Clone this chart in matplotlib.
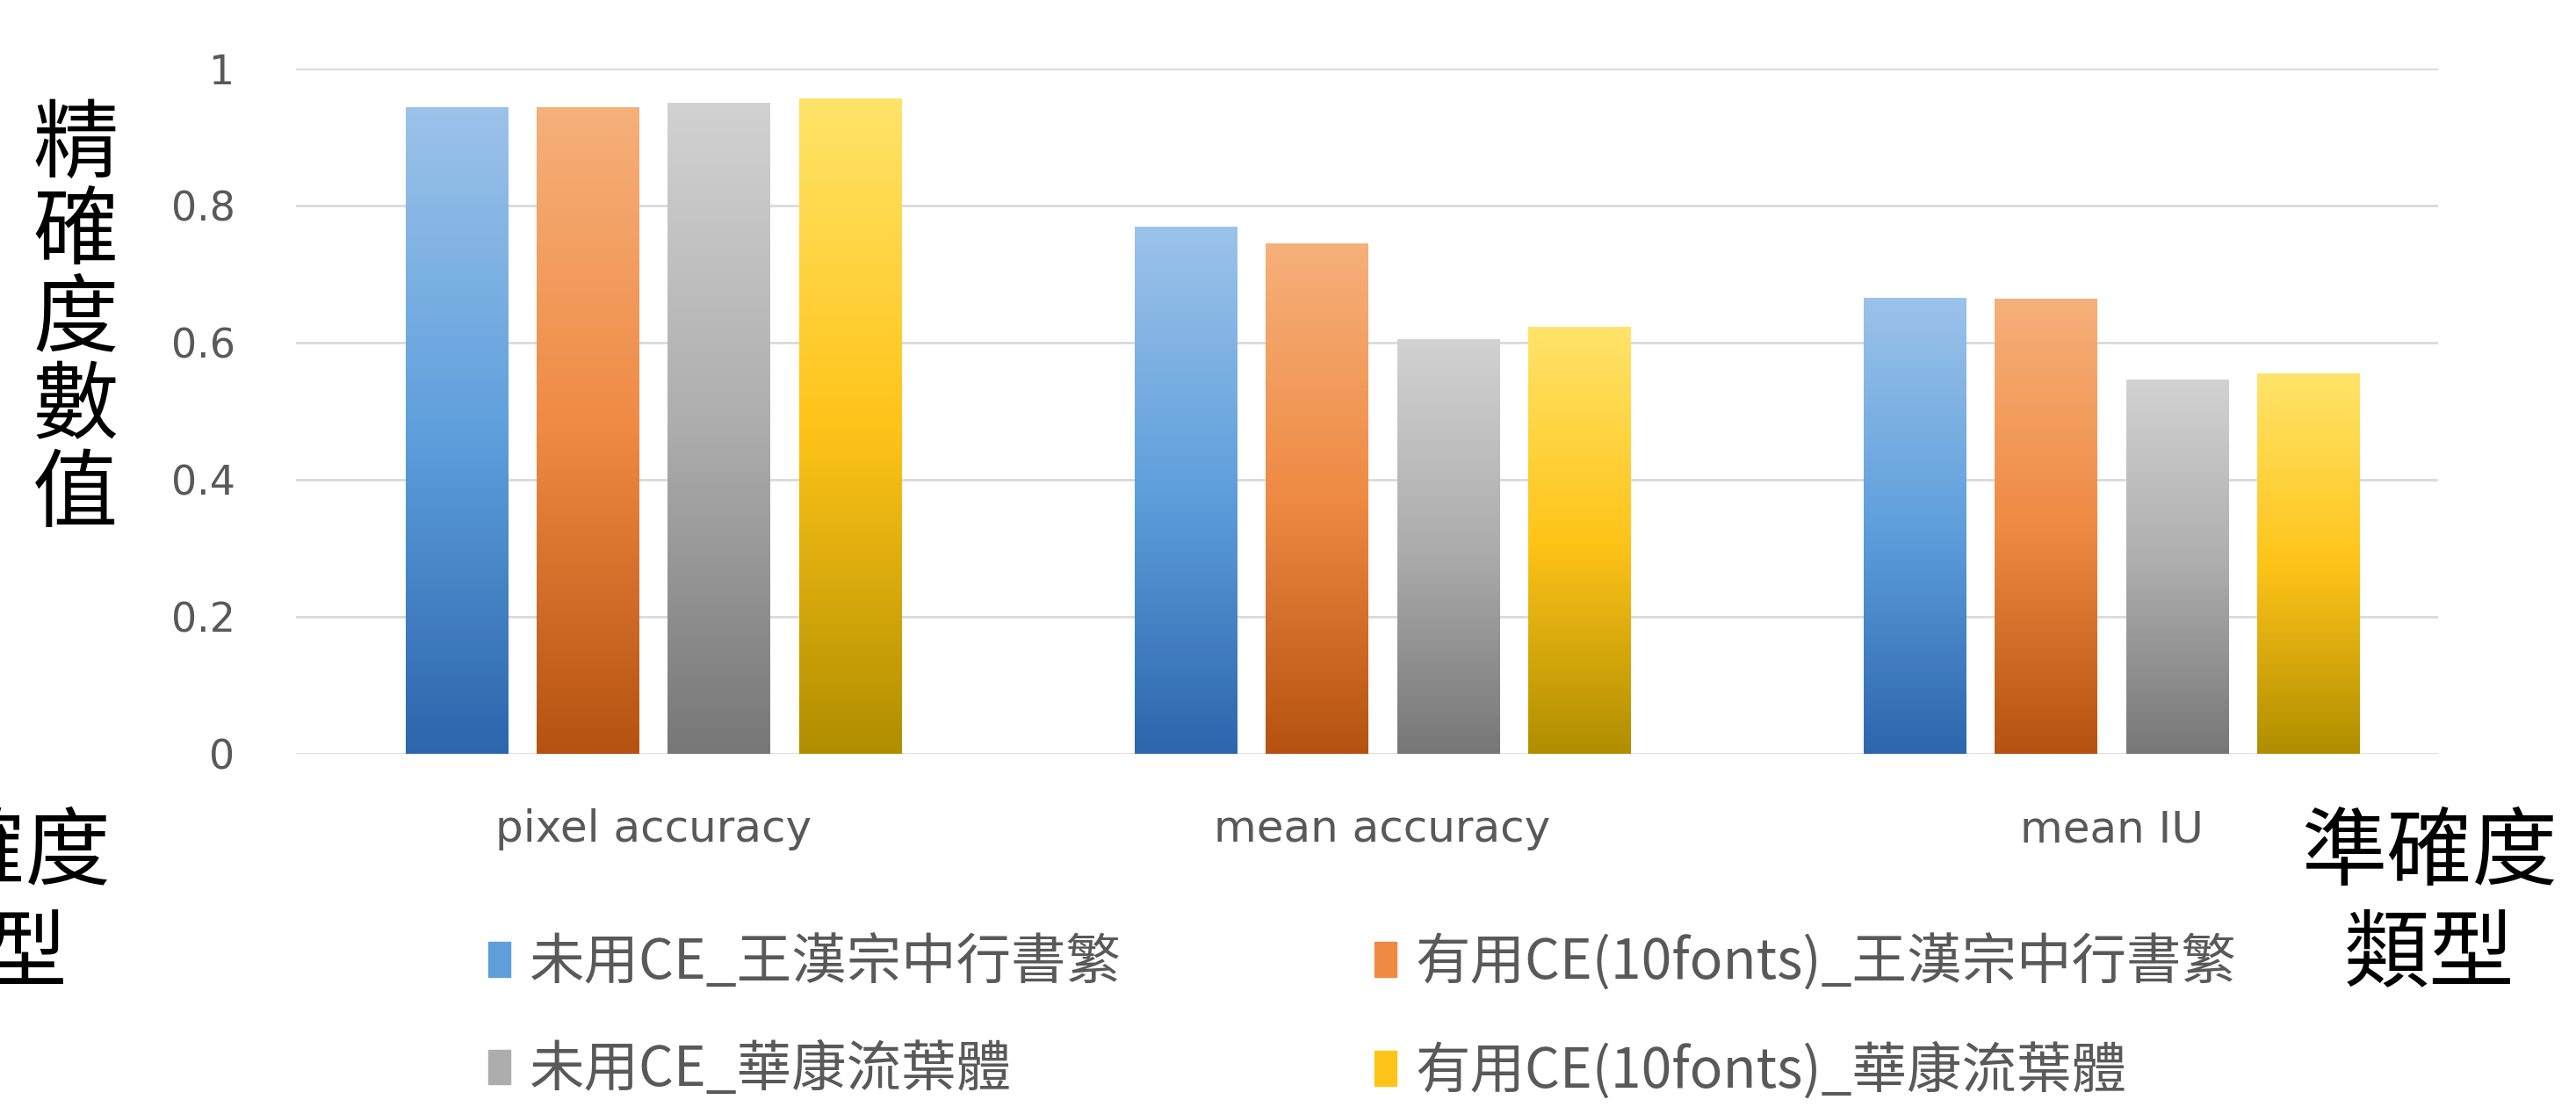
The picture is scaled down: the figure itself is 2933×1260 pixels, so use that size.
import numpy as np
import matplotlib
matplotlib.use('Agg')
import matplotlib.pyplot as plt
from matplotlib.colors import LinearSegmentedColormap
from matplotlib.patches import Patch

plt.rcParams['font.family'] = ['Noto Sans CJK TC', 'DejaVu Sans']

# data
categories = ['pixel accuracy', 'mean accuracy', 'mean IU']
series_names = ['未用CE_王漢宗中行書繁', '有用CE(10fonts)_王漢宗中行書繁',
                '未用CE_華康流葉體', '有用CE(10fonts)_華康流葉體']
no_ce_wang = [0.943, 0.768, 0.665]
ce_wang = [0.943, 0.744, 0.663]
no_ce_hk = [0.949, 0.604, 0.545]
ce_hk = [0.956, 0.622, 0.555]
yticks = [0, 0.2, 0.4, 0.6, 0.8, 1]
ytick_labels = ['0', '0.2', '0.4', '0.6', '0.8', '1']

# top / middle / bottom colours of each bar gradient
gradients = [
    ['#9cc3ea', '#5f9fdc', '#2c66ad'],
    ['#f6b07a', '#ef8a43', '#b5520f'],
    ['#d2d2d2', '#adadad', '#777777'],
    ['#ffe46a', '#ffc419', '#b08e00'],
]

W, H = 2933, 1260
fig = plt.figure(figsize=(W / 100, H / 100), dpi=100)
ax = fig.add_axes([337 / W, 1 - 858 / H, (2776 - 337) / W, (858 - 78) / H])

x = np.arange(len(categories))
width = 0.14
offsets = [-0.27, -0.09, 0.09, 0.27]
grad = np.linspace(0, 1, 256).reshape(-1, 1)

handles = []
for vals, off, cols in zip([no_ce_wang, ce_wang, no_ce_hk, ce_hk], offsets, gradients):
    cmap = LinearSegmentedColormap.from_list('g', cols)
    bars = ax.bar(x + off, vals, width, color=cols[1], zorder=2)
    for b in bars:
        ax.imshow(grad, extent=[b.get_x(), b.get_x() + b.get_width(), 0, b.get_height()],
                  aspect='auto', cmap=cmap, zorder=3, origin='upper')
    handles.append(Patch(color=cols[1]))

ax.set_xlim(-0.49, 2.448)
ax.set_ylim(0, 1)
ax.set_yticks(yticks)
ax.set_yticklabels(ytick_labels, family='DejaVu Sans', fontsize=33, color='#595959')
ax.set_xticks(x)
ax.set_xticklabels(categories, family='DejaVu Sans', fontsize=36, color='#595959')
ax.tick_params(axis='y', length=0, pad=50)
ax.tick_params(axis='x', length=0, pad=45)
for s in ax.spines.values():
    s.set_visible(False)
ax.grid(axis='y', color='#d9d9d9', linewidth=2, zorder=0)
ax.set_axisbelow(True)

# legend: row 1 blue / orange, row 2 gray / yellow
order = [0, 2, 1, 3]
ax.legend([handles[i] for i in order], [series_names[i] for i in order],
          ncol=2, loc='upper left', bbox_to_anchor=(556 / W, 1 - 1063 / H),
          bbox_transform=fig.transFigure, frameon=False, fontsize=45,
          labelcolor='#595959', handlelength=0.4, handleheight=0.6,
          handletextpad=0.35, columnspacing=4.6, labelspacing=0.93,
          borderpad=0, borderaxespad=0)

# axis titles
fig.text(86 / W, 1 - 365 / H, '\n'.join('精確度數值'), fontsize=70,
         ha='center', va='center', linespacing=1.0)
fig.text(2766 / W, 1 - 1030 / H, '準確度\n類型', fontsize=70,
         ha='center', va='center', linespacing=1.2)
fig.text(-20 / W, 1 - 1030 / H, '準確度\n類型', fontsize=70,
         ha='center', va='center', linespacing=1.2)

fig.savefig('out.png', dpi=100)
